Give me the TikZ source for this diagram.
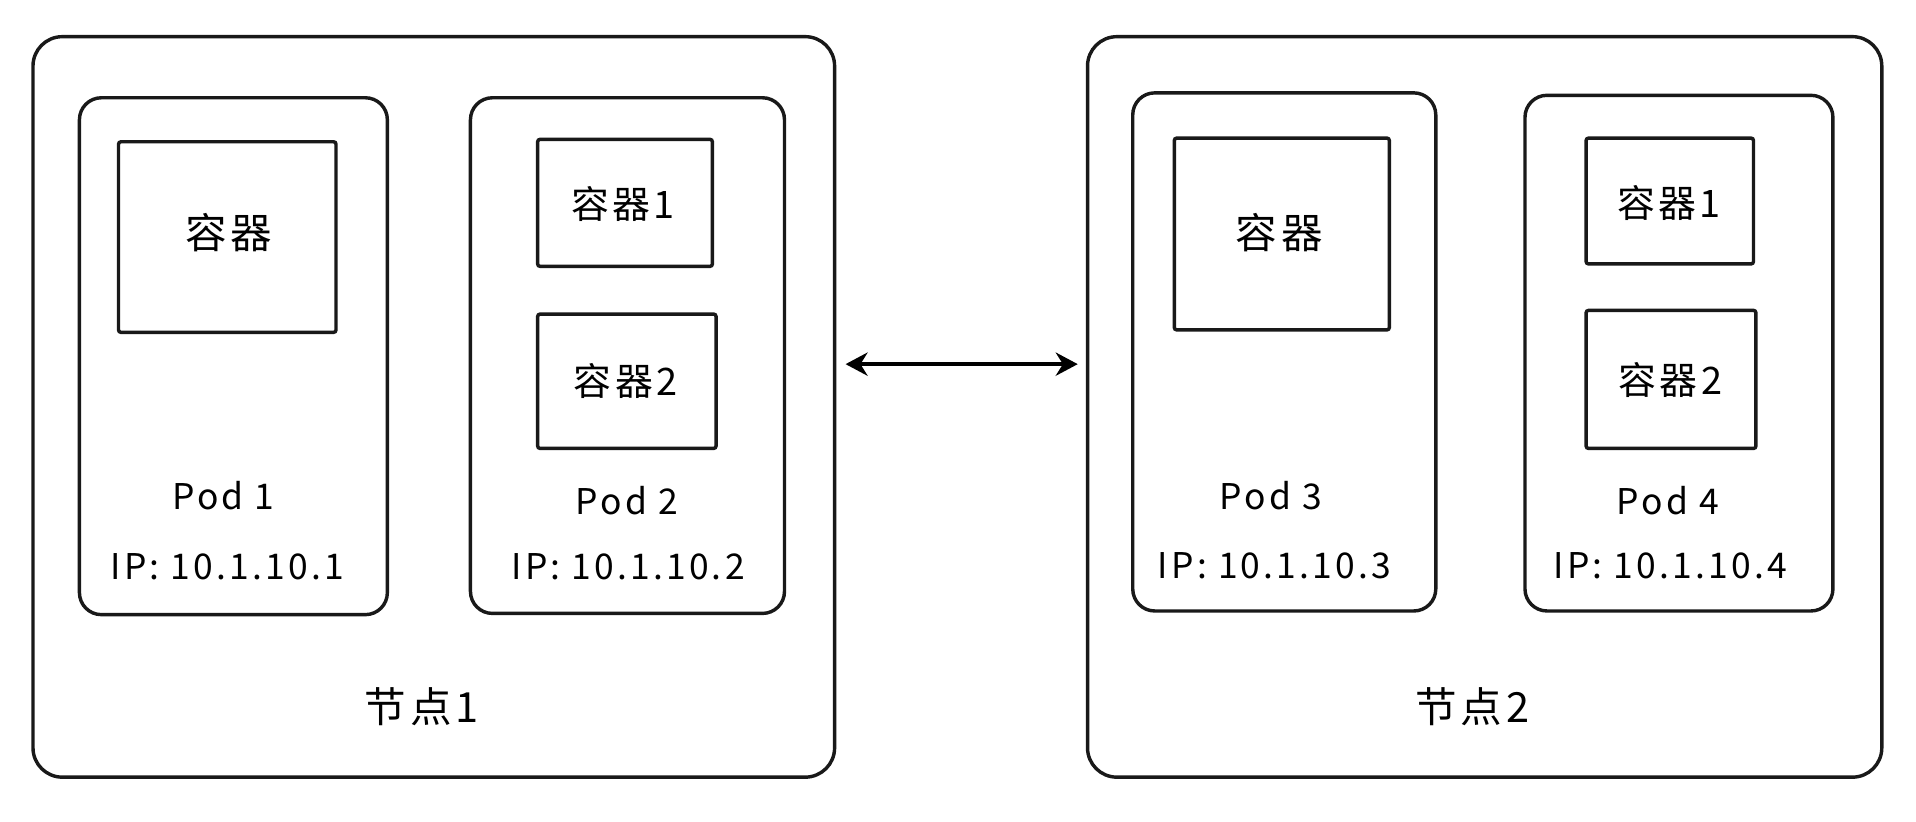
\documentclass[tikz,border=0pt]{standalone}
\usepackage{fontspec}
\setmainfont{Noto Sans CJK SC}
\newfontfamily\spaced[LetterSpace=9]{Noto Sans CJK SC}
\usetikzlibrary{arrows.meta}
\tikzset{
  box/.style={draw=black!90, line width=2.8pt, inner sep=0pt, outer sep=0pt, anchor=north west},
  nodebox/.style={box, rounded corners=24pt},
  podbox/.style={box, rounded corners=18pt},
  ctbox/.style={box, rounded corners=2pt},
  bigtxt/.style={font=\spaced\fontsize{34}{38}\selectfont},
  ctxt/.style={font=\spaced\fontsize{31}{35}\selectfont},
  ltxt/.style={font=\spaced\fontsize{29}{33}\selectfont},
  link/.style={line width=3pt, {Stealth[length=18pt,width=19pt]}-{Stealth[length=18pt,width=19pt]}, shorten <=9pt, shorten >=8pt}
}
\begin{document}
\begin{tikzpicture}[x=1pt,y=-1pt]
\useasboundingbox (0,0) rectangle (1568,672);
\fill[white] (0,0) rectangle (1568,672);
% node 1
\node[nodebox, minimum width=656pt, minimum height=606pt] (n1) at (27,30) {};
\node[podbox, minimum width=252pt, minimum height=423pt] (p1) at (65,80) {};
\node[ctbox, minimum width=178pt, minimum height=156pt] (c1) at (97,116) {};
\node[bigtxt] (c1t) at (187,190) {容器};
\node[ltxt] (p1n) at (183,406) {Pod 1};
\node[ltxt] (p1ip) at (186,464) {IP: 10.1.10.1};
\node[podbox, minimum width=257pt, minimum height=422pt] (p2) at (385,80) {};
\node[ctbox, minimum width=143pt, minimum height=104pt] (c21) at (440,114) {};
\node[ctxt] (c21t) at (510,167) {容器1};
\node[ctbox, minimum width=146pt, minimum height=110pt] (c22) at (440,257) {};
\node[ctxt] (c22t) at (512,312) {容器2};
\node[ltxt] (p2n) at (513,410) {Pod 2};
\node[ltxt] (p2ip) at (514,464) {IP: 10.1.10.2};
\node[bigtxt] (n1t) at (345,578) {节点1};
% node 2
\node[nodebox, minimum width=650pt, minimum height=606pt] (n2) at (890,30) {};
\node[podbox, minimum width=248pt, minimum height=424pt] (p3) at (927,76) {};
\node[ctbox, minimum width=176pt, minimum height=157pt] (c3) at (961,113) {};
\node[bigtxt] (c3t) at (1047,190) {容器};
\node[ltxt] (p3n) at (1040,406) {Pod 3};
\node[ltxt] (p3ip) at (1043,463) {IP: 10.1.10.3};
\node[podbox, minimum width=252pt, minimum height=422pt] (p4) at (1248,78) {};
\node[ctbox, minimum width=137pt, minimum height=103pt] (c41) at (1298,113) {};
\node[ctxt] (c41t) at (1366,166) {容器1};
\node[ctbox, minimum width=139pt, minimum height=113pt] (c42) at (1298,254) {};
\node[ctxt] (c42t) at (1367,311) {容器2};
\node[ltxt] (p4n) at (1365,410) {Pod 4};
\node[ltxt] (p4ip) at (1367,463) {IP: 10.1.10.4};
\node[bigtxt] (n2t) at (1205,578) {节点2};
% link
\draw[link] ([yshift=35pt]n1.east) -- ([yshift=35pt]n2.west);
\end{tikzpicture}
\end{document}
